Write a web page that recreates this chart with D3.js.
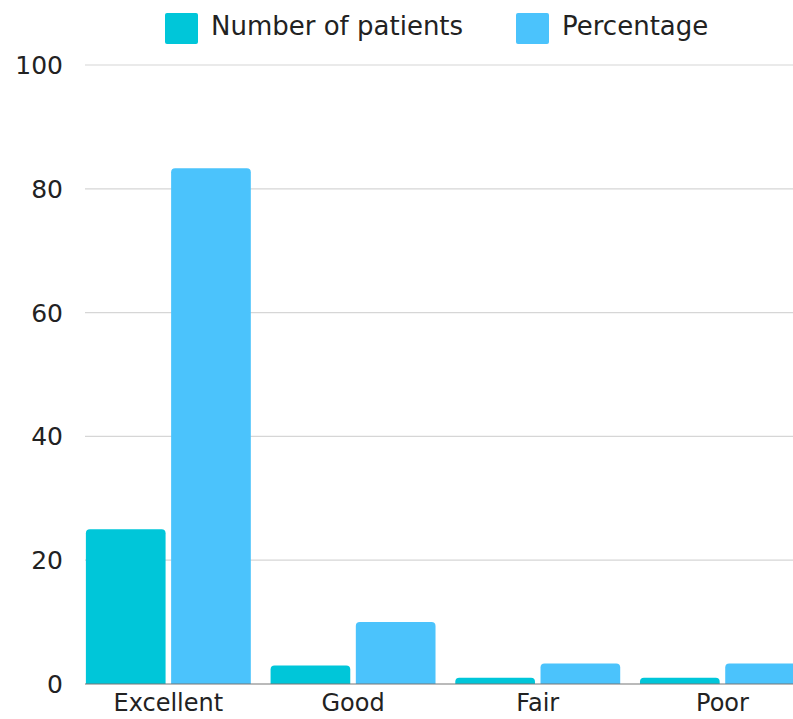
<!DOCTYPE html>
<html>
<head>
<meta charset="utf-8">
<script src="https://cdn.jsdelivr.net/npm/d3@7"></script>
<style>
  body { margin: 0; background: #fff; }
  svg { display: block; }
</style>
</head>
<body>
<div id="chart"></div>
<script>
const categories = ["Excellent", "Good", "Fair", "Poor"];
const seriesNames = ["Number of patients", "Percentage"];
const patients = [25, 3, 1, 1];
const percentage = [83.3, 10, 3.3, 3.3];
const yTicks = [0, 20, 40, 60, 80, 100];
const colors = ["#00c6d9", "#4bc3fc"];

const width = 793, height = 719;
const margin = {top: 65, bottom: 35, left: 76};
const font = "'DejaVu Sans', sans-serif";

const rows = categories.map((c, i) => ({cat: c, values: [patients[i], percentage[i]]}));

const svg = d3.select("#chart")
  .append("svg")
  .attr("width", width)
  .attr("height", height);

const y = d3.scaleLinear()
  .domain([0, 100])
  .range([height - margin.bottom, margin.top]);

// outer band for categories; last bar runs past the right edge like the original
const x0 = d3.scaleBand()
  .domain(categories)
  .range([margin.left, margin.left + 4 * 184.7])
  .paddingInner(0.107)
  .paddingOuter(0.0535);

const x1 = d3.scaleBand()
  .domain(d3.range(seriesNames.length))
  .range([0, x0.bandwidth()])
  .paddingInner(0.065);

// gridlines
svg.append("g")
  .selectAll("line")
  .data(yTicks.filter(d => d > 0))
  .join("line")
  .attr("x1", 85)
  .attr("x2", width)
  .attr("y1", d => y(d))
  .attr("y2", d => y(d))
  .attr("stroke", "#d6d6d6")
  .attr("stroke-width", 1.2);

// y labels
svg.append("g")
  .selectAll("text")
  .data(yTicks)
  .join("text")
  .attr("x", 63)
  .attr("y", d => y(d))
  .attr("dy", "0.36em")
  .attr("text-anchor", "end")
  .attr("font-family", font)
  .attr("font-size", 25)
  .attr("fill", "#222")
  .text(d => d);

function topRounded(x, yTop, w, h, r) {
  r = Math.min(r, h, w / 2);
  return `M${x},${yTop + h}V${yTop + r}Q${x},${yTop} ${x + r},${yTop}H${x + w - r}Q${x + w},${yTop} ${x + w},${yTop + r}V${yTop + h}Z`;
}

// bars
svg.append("g")
  .selectAll("g")
  .data(rows)
  .join("g")
  .attr("transform", d => `translate(${x0(d.cat)},0)`)
  .selectAll("path")
  .data(d => d.values.map((v, i) => ({i, v})))
  .join("path")
  .attr("fill", d => colors[d.i])
  .attr("d", d => topRounded(x1(d.i), y(d.v), x1.bandwidth(), y(0) - y(d.v), 4));

// baseline
svg.append("line")
  .attr("x1", 85)
  .attr("x2", width)
  .attr("y1", y(0))
  .attr("y2", y(0))
  .attr("stroke", "#777")
  .attr("stroke-width", 1.2);

// x labels
svg.append("g")
  .selectAll("text")
  .data(categories)
  .join("text")
  .attr("x", d => x0(d) + x0.bandwidth() / 2)
  .attr("y", 711)
  .attr("text-anchor", "middle")
  .attr("font-family", font)
  .attr("font-size", 24)
  .attr("fill", "#222")
  .text(d => d);

// legend
const legendX = [165, 516];
const legend = svg.append("g")
  .selectAll("g")
  .data(seriesNames)
  .join("g")
  .attr("transform", (d, i) => `translate(${legendX[i]},13)`);

legend.append("rect")
  .attr("width", 33)
  .attr("height", 31)
  .attr("rx", 2)
  .attr("fill", (d, i) => colors[i]);

legend.append("text")
  .attr("x", 46)
  .attr("y", 22)
  .attr("font-family", font)
  .attr("font-size", 26)
  .attr("fill", "#222")
  .text(d => d);
</script>
</body>
</html>
